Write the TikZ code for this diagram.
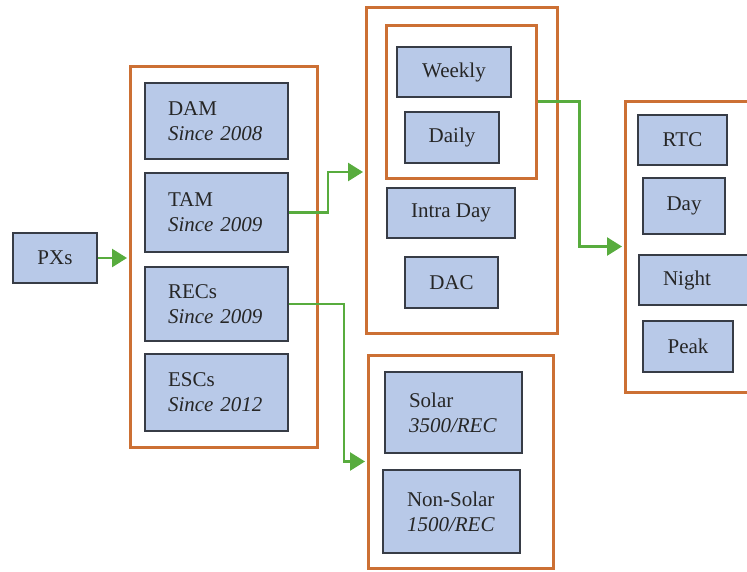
\documentclass[tikz,border=0pt]{standalone}
\usepackage{fontspec}
\setmainfont{Liberation Serif}
\usetikzlibrary{arrows.meta}
\definecolor{frameorange}{RGB}{204,112,52}
\definecolor{cellblue}{RGB}{184,201,232}
\definecolor{cellline}{RGB}{55,60,70}
\definecolor{flowgreen}{RGB}{88,172,62}
\tikzset{
  cell/.style={draw=cellline, fill=cellblue, line width=1.8pt, inner sep=0pt, align=center,
    font=\fontsize{21}{25}\selectfont, text=black!85},
  lcell/.style={cell, align=left},
  frame/.style={draw=frameorange, line width=3pt, inner sep=0pt},
  flow/.style={draw=flowgreen, line width=2.6pt, -{Triangle[length=15pt,width=18pt]}, shorten >=1.5pt}
}
\begin{document}
\begin{tikzpicture}[x=1pt,y=1pt]
\useasboundingbox (0,0) rectangle (747,-571);
\clip (0,0) rectangle (747,-571);
% containers
\node[frame, minimum width=187, minimum height=381] (c1) at (223.5,-256.5) {};
\node[frame, minimum width=191, minimum height=326] (c2) at (461.5,-170) {};
\node[frame, minimum width=150, minimum height=153] (c2in) at (461,-101.5) {};
\node[frame, minimum width=150, minimum height=291] (c3) at (700,-246.5) {};
\node[frame, minimum width=185, minimum height=213] (c4) at (460.5,-461.5) {};
% cells
\node[cell, minimum width=84, minimum height=50] (pxs) at (55,-258) {PXs};
\node[lcell, minimum width=143, minimum height=76, text width=97] (dam) at (216.5,-121) {DAM\\\textit{Since 2008}};
\node[lcell, minimum width=143, minimum height=79, text width=97] (tam) at (216.5,-212.5) {TAM\\\textit{Since 2009}};
\node[lcell, minimum width=143, minimum height=74, text width=97] (recs) at (216.5,-304) {RECs\\\textit{Since 2009}};
\node[lcell, minimum width=143, minimum height=77, text width=97] (escs) at (216.5,-392.5) {ESCs\\\textit{Since 2012}};
\node[cell, minimum width=114, minimum height=50] (weekly) at (454,-72) {Weekly};
\node[cell, minimum width=94, minimum height=51] (daily) at (452,-137.5) {Daily};
\node[cell, minimum width=128, minimum height=50] (intra) at (451,-213) {Intra Day};
\node[cell, minimum width=93, minimum height=51] (dac) at (451.5,-282.5) {DAC};
\node[cell, minimum width=89, minimum height=50] (rtc) at (682.5,-140) {RTC};
\node[cell, minimum width=82, minimum height=56] (day) at (684,-206) {Day};
\node[lcell, minimum width=113, minimum height=50, inner xsep=24pt, text width=65] (night) at (695.5,-280) {Night};
\node[cell, minimum width=90, minimum height=51] (peak) at (688,-346.5) {Peak};
\node[lcell, minimum width=137, minimum height=81, inner xsep=24pt, text width=89] (solar) at (453.5,-412.5) {Solar\\\textit{3500/REC}};
\node[lcell, minimum width=137, minimum height=83, inner xsep=24pt, text width=89] (nonsolar) at (451.5,-511.5) {\mbox{Non-Solar}\\\textit{1500/REC}};
% connectors
\draw[flow] (pxs.east) -- (pxs.east -| c1.west);
\draw[flow] (tam.east) -- ++(39,0) |- ([yshift=-2pt]c2.west);
\draw[flow] (c2in.east) -- ++(42,0) |- (c3.west);
\draw[flow] (recs.east) -- ++(55,0) |- (c4.west);
\end{tikzpicture}
\end{document}
